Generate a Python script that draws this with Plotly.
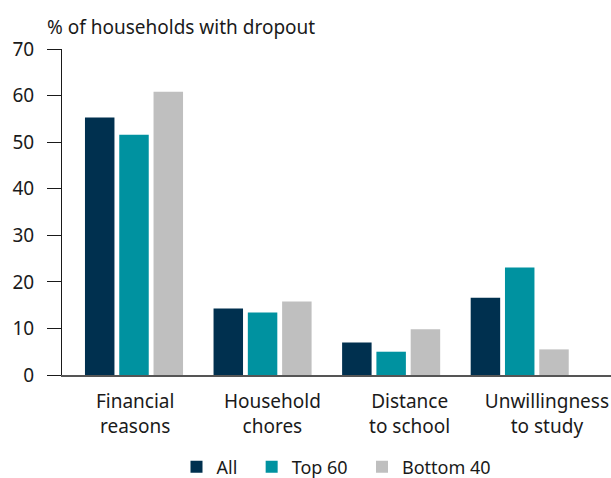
import plotly.graph_objects as go

categories = ["Financial<br>reasons", "Household<br>chores", "Distance<br>to school", "Unwillingness<br>to study"]
all_vals = [55.3, 14.3, 7.0, 16.6]
top60_vals = [51.6, 13.4, 5.0, 23.1]
bottom40_vals = [60.8, 15.8, 9.8, 5.5]
series_names = ["All\u00a0\u00a0", "Top 60\u00a0\u00a0", "Bottom 40"]
y_ticks = [0, 10, 20, 30, 40, 50, 60, 70]

FONT = "Noto Sans"
fig = go.Figure()
for name, vals, color in zip(series_names, [all_vals, top60_vals, bottom40_vals],
                             ["#00304F", "#0092A0", "#BFBFBF"]):
    fig.add_trace(go.Bar(x=categories, y=vals, name=name, marker_color=color,
                         marker_line_width=0))

# invisible helper trace so the label axis is drawn
fig.add_trace(go.Scatter(x=[0], y=[None], xaxis="x2", showlegend=False,
                         hoverinfo="skip", mode="markers"))

fig.update_layout(
    width=611, height=478,
    margin=dict(l=62, r=0, t=49, b=103, autoexpand=False),
    paper_bgcolor="white", plot_bgcolor="white",
    barmode="group", bargap=0.2, bargroupgap=0.14,
    font=dict(family=FONT, size=19, color="#1a1a1a"),
    showlegend=True,
    legend=dict(orientation="h", x=0.5, xanchor="center", y=-0.282, yanchor="middle",
                font=dict(size=18), itemwidth=30, traceorder="normal"),
    annotations=[dict(text="% of households with dropout", xref="paper", yref="paper",
                      x=-0.031, y=1 + (49 - 27) / 326, xanchor="left", yanchor="middle",
                      showarrow=False, font=dict(size=19))],
    xaxis2=dict(overlaying="x", side="bottom", anchor="y", range=[-0.533, 3.467],
                tickmode="array", tickvals=list(range(len(categories))), ticktext=categories,
                showline=False, showgrid=False, zeroline=False, ticks="",
                tickfont=dict(size=19), automargin=False, ticklabelstandoff=13),
)
fig.layout.xaxis.update(range=[-0.56, 3.71], showline=True, linecolor="#555555", linewidth=2,
                        ticks="", showticklabels=False, showgrid=False, automargin=False)
fig.update_yaxes(range=[0, 70], tickvals=y_ticks, showline=True, linecolor="#1a1a1a",
                 linewidth=1, ticks="outside", ticklen=14, tickcolor="#1a1a1a",
                 showgrid=False, zeroline=False, tickfont=dict(size=19), automargin=False,
                 ticklabelstandoff=9)
fig.write_html("out.html", config={"displayModeBar": False},
               post_script="document.body.style.margin='0';")
